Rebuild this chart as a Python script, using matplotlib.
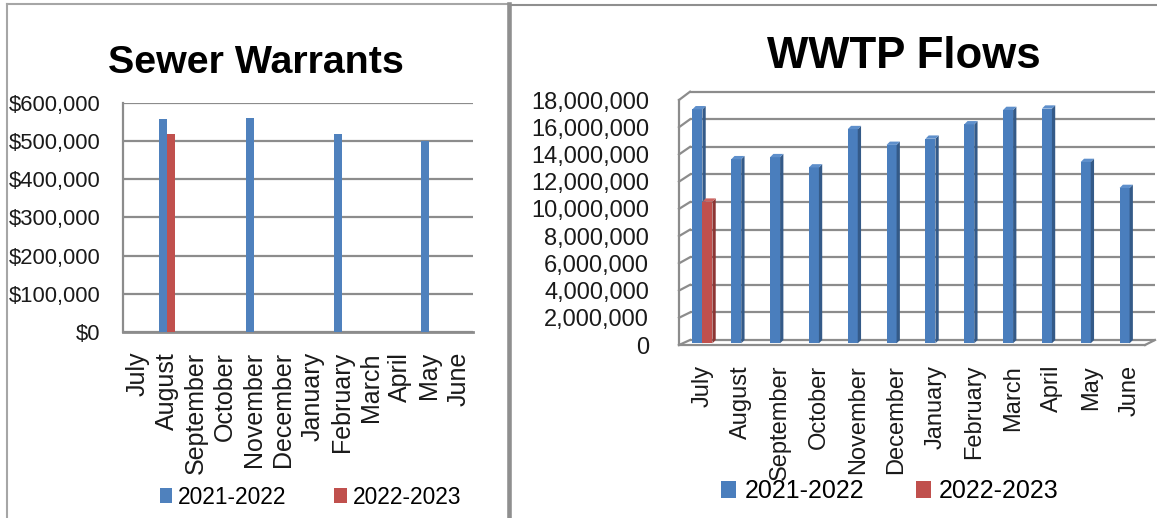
import numpy as np
import matplotlib
matplotlib.use('Agg')
import matplotlib.pyplot as plt
from matplotlib import font_manager
from matplotlib.patches import Polygon
from matplotlib.lines import Line2D
from matplotlib.transforms import IdentityTransform
from matplotlib.ticker import FuncFormatter

# ---- data ----
months = ['July', 'August', 'September', 'October', 'November', 'December',
          'January', 'February', 'March', 'April', 'May', 'June']
series = ['2021-2022', '2022-2023']

# Sewer Warrants, dollars (None = no bar that month)
warrants_2122 = [None, 557000, None, None, 561000, None, None, 518000, None, None, 500000, None]
warrants_2223 = [None, 518000, None, None, None, None, None, None, None, None, None, None]
warrant_ticks = [0, 100000, 200000, 300000, 400000, 500000, 600000]

# WWTP Flows
flows_2122 = [17100000, 13450000, 13600000, 12850000, 15650000, 14500000,
              14950000, 16000000, 17050000, 17150000, 13250000, 11350000]
flows_2223 = [10350000, None, None, None, None, None, None, None, None, None, None, None]
flow_ticks = [0, 2000000, 4000000, 6000000, 8000000, 10000000, 12000000,
              14000000, 16000000, 18000000]

BLUE = '#4F81BD'
RED = '#C0504D'
BLUE3 = ('#4A7EBD', '#345A88', '#5E8FCB')   # front, side, top
RED3 = ('#C0504D', '#8C3533', '#CC6461')
GRID = '#8C8C8C'

have = {f.name for f in font_manager.fontManager.ttflist}
NARROW = 'Liberation Sans Narrow' if 'Liberation Sans Narrow' in have else 'Liberation Sans'
narrow_ok = NARROW == 'Liberation Sans Narrow'
SANS = 'Liberation Sans'

W, H = 1157, 518
fig = plt.figure(figsize=(W / 100, H / 100), dpi=100)


def box(l, r, b, t):
    # pixel edges (y from top) -> figure fraction rect
    return [l / W, (H - b) / H, (r - l) / W, (b - t) / H]


def px(x, y):
    return x / W, (H - y) / H


x = np.arange(len(months))

# ================= left: Sewer Warrants =================
axL = fig.add_axes(box(123, 473, 332, 102.7))
bw = 0.27
handles = []
for vals, col, off, name in ((warrants_2122, BLUE, -bw / 2, series[0]),
                             (warrants_2223, RED, bw / 2, series[1])):
    idx = [i for i, v in enumerate(vals) if v is not None]
    b = axL.bar([i + off for i in idx], [vals[i] for i in idx], width=bw,
                color=col, zorder=3, label=name, linewidth=0)
    handles.append(b)
axL.set_xlim(-0.5, 11.5)
axL.set_ylim(0, 600000)
axL.set_yticks(warrant_ticks)
axL.yaxis.set_major_formatter(FuncFormatter(lambda v, p: '${:,.0f}'.format(v)))
axL.set_xticks(x)
axL.set_xticklabels(months, rotation=90, va='top', ha='center',
                    family=SANS, fontsize=18)
for lab in axL.get_yticklabels():
    lab.set_family(NARROW)
    lab.set_fontsize(18 if narrow_ok else 15.8)
axL.tick_params(axis='y', length=0, pad=16.0, colors='#1a1a1a')
axL.tick_params(axis='x', length=0, pad=14.4, colors='#1a1a1a')
axL.grid(axis='y', color=GRID, linewidth=1.6, zorder=1)
axL.set_axisbelow(True)
for s in ('top', 'right'):
    axL.spines[s].set_visible(False)
axL.spines['left'].set_color(GRID)
axL.spines['left'].set_linewidth(1.6)
axL.spines['bottom'].set_color(GRID)
axL.spines['bottom'].set_linewidth(2.0)

fig.text(*px(256, 73.3), 'Sewer Warrants', ha='center', va='baseline',
         family=NARROW, fontweight='bold', fontsize=32.7 if narrow_ok else 28.4)
fig.legend(handles=handles, loc='center', bbox_to_anchor=px(310.5, 497), ncol=2,
           frameon=False, prop={'family': NARROW, 'size': 18 if narrow_ok else 16.4},
           handlelength=0.55, handleheight=0.65, handletextpad=0.26,
           columnspacing=2.1, borderpad=0, borderaxespad=0)

# ================= right: WWTP Flows (3-D look) =================
axB = fig.add_axes(box(690, 1155, 340, 91.7))   # back wall
axM = fig.add_axes(box(683, 1149, 343.3, 97))   # plane of the bars
axF = fig.add_axes(box(679, 1145, 345, 100))    # front edge, value labels
for a in (axB, axM, axF):
    a.set_xlim(-0.5, 11.5)
    a.set_ylim(0, 18000000)
    a.set_facecolor('none')
    for s in a.spines.values():
        s.set_visible(False)
    a.tick_params(length=0)
    a.set_xticks([])
    a.set_yticks([])

axB.hlines(flow_ticks, -0.5, 11.5, color=GRID, linewidth=1.6, clip_on=False)

ident = IdentityTransform()


def seg(p0, p1):
    fig.add_artist(Line2D([p0[0], p1[0]], [p0[1], p1[1]], transform=ident,
                          color=GRID, linewidth=1.6))


for v in flow_ticks:
    seg(axF.transData.transform((-0.5, v)), axB.transData.transform((-0.5, v)))
seg(axF.transData.transform((-0.5, 0)), axF.transData.transform((-0.5, 18000000)))
seg(axF.transData.transform((-0.5, 0)), axF.transData.transform((11.5, 0)))
seg(axF.transData.transform((11.5, 0)), axB.transData.transform((11.5, 0)))

bw3 = 0.2575
d = 3.3
handles3 = []
for vals, cols, off, z, name in ((flows_2122, BLUE3, -bw3 / 2, 3, series[0]),
                                 (flows_2223, RED3, bw3 / 2, 4, series[1])):
    idx = [i for i, v in enumerate(vals) if v is not None]
    b = axM.bar([i + off for i in idx], [vals[i] for i in idx], width=bw3,
                color=cols[0], zorder=z, linewidth=0, label=name)
    handles3.append(b)
    for i in idx:
        x0, y0 = axM.transData.transform((i + off - bw3 / 2, 0))
        x1, y1 = axM.transData.transform((i + off + bw3 / 2, vals[i]))
        side = [(x1, y0), (x1, y1), (x1 + d, y1 + d), (x1 + d, y0 + d)]
        top = [(x0, y1), (x1, y1), (x1 + d, y1 + d), (x0 + d, y1 + d)]
        for verts, c in ((side, cols[1]), (top, cols[2])):
            axM.add_artist(Polygon(verts, closed=True, transform=ident,
                                   facecolor=c, edgecolor='none', zorder=z,
                                   clip_on=False))

axM.set_xticks(x)
axM.set_xticklabels(months, rotation=90, va='top', ha='center',
                    family=SANS, fontsize=17)
axM.tick_params(axis='x', length=0, pad=15.6, colors='#1a1a1a')
axF.set_yticks(flow_ticks)
axF.yaxis.set_major_formatter(FuncFormatter(lambda v, p: '{:,.0f}'.format(v)))
for lab in axF.get_yticklabels():
    lab.set_family(SANS)
    lab.set_fontsize(17)
axF.tick_params(axis='y', length=0, pad=21.6, colors='#1a1a1a')

fig.text(*px(903.5, 68.3), 'WWTP Flows', ha='center', va='baseline',
         family=SANS, fontweight='bold', fontsize=31.5)
fig.legend(handles=handles3, loc='center', bbox_to_anchor=px(890, 491.5), ncol=2,
           frameon=False, prop={'family': SANS, 'size': 18},
           handlelength=0.6, handleheight=0.68, handletextpad=0.32,
           columnspacing=2.08, borderpad=0, borderaxespad=0)

# ---- panel frames ----
def frame(xs, ys, c, lw):
    fig.add_artist(Line2D([v / W for v in xs], [(H - v) / H for v in ys],
                          transform=fig.transFigure, color=c, linewidth=lw))


frame([7, 7], [4, 520], '#A6A6A6', 1.5)
frame([7, 507], [4, 4], '#A6A6A6', 1.5)
frame([508.5, 508.5], [4, 520], '#8F8F8F', 3.3)
frame([509, 1157], [5, 5], '#8F8F8F', 1.5)

fig.savefig('out.png', dpi=100, facecolor='white')
